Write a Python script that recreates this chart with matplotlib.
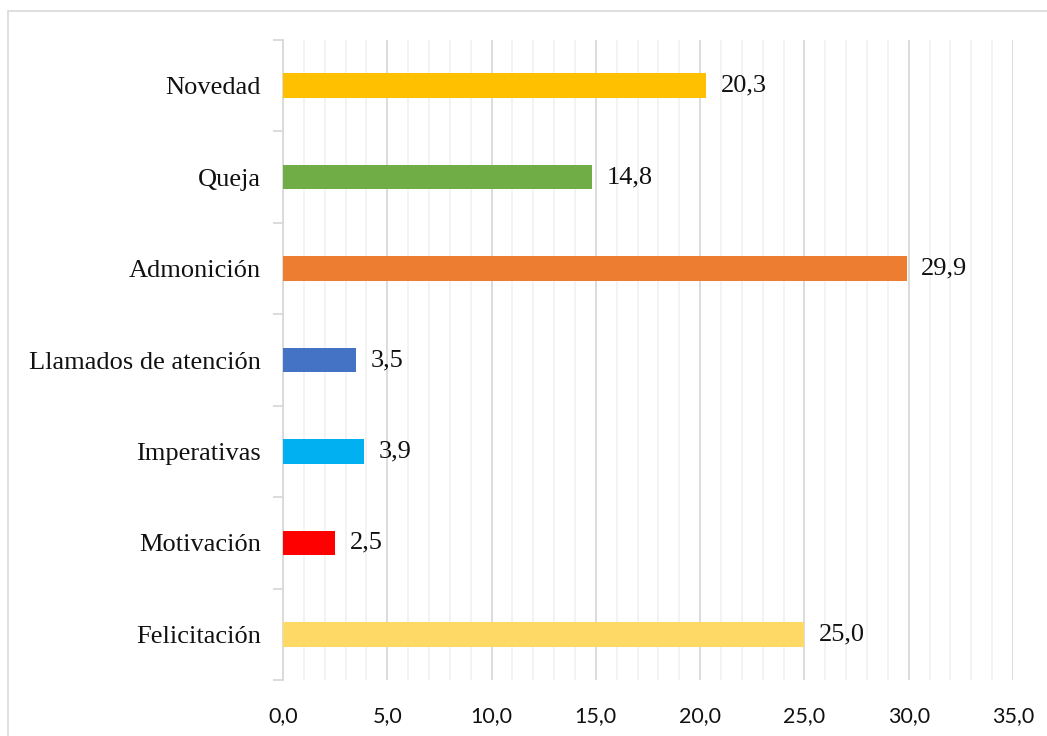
import numpy as np
import matplotlib.pyplot as plt
from matplotlib.patches import Rectangle
from matplotlib.ticker import MultipleLocator, FixedLocator

# Data (bottom to top)
categorias = ["Felicitación", "Motivación", "Imperativas", "Llamados de atención",
              "Admonición", "Queja", "Novedad"]
valores = [25.0, 2.5, 3.9, 3.5, 29.9, 14.8, 20.3]
colores = ["#FFD966", "#FF0000", "#00B0F0", "#4472C4", "#ED7D31", "#70AD47", "#FFC000"]

fig = plt.figure(figsize=(10.47, 7.36), dpi=100)
ax = fig.add_axes([283/1047, 1-680/736, (1013-283)/1047, 640/736])

# outer chart border
fig.patches.append(Rectangle((8/1047, -0.1), 1.2, 1-11/736+0.1, transform=fig.transFigure,
                             fill=False, edgecolor="#D9D9D9", linewidth=1.2))

y = np.arange(len(categorias))
ax.barh(y, valores, height=0.27, color=colores, zorder=3)

for yi, v in zip(y, valores):
    ax.text(v + 0.7, yi, f"{v:.1f}".replace(".", ","), va="center", ha="left",
            fontsize=19, family="Liberation Serif", color="#111111")

ax.set_xlim(0, 35)
ax.set_ylim(-0.5, len(categorias) - 0.5)

ax.xaxis.set_major_locator(MultipleLocator(5))
ax.xaxis.set_minor_locator(MultipleLocator(1))
ax.grid(True, axis="x", which="major", color="#D9D9D9", linewidth=1.3, zorder=0)
ax.grid(True, axis="x", which="minor", color="#F2F2F2", linewidth=1.3, zorder=0)
ax.set_xticks(np.arange(0, 36, 5))
ax.set_xticklabels([f"{t:.1f}".replace(".", ",") for t in np.arange(0, 36, 5)],
                   fontsize=15.5, family="Lato", color="#111111")
ax.tick_params(axis="x", which="both", length=0, pad=19)

ax.set_yticks(y)
ax.set_yticklabels(categorias, fontsize=19, family="Liberation Serif", color="#111111")
ax.yaxis.set_minor_locator(FixedLocator(np.arange(-0.5, len(categorias), 1)))
ax.tick_params(axis="y", which="major", length=0, pad=16)
ax.tick_params(axis="y", which="minor", length=7, color="#D9D9D9", width=1.3)

for s in ["top", "right", "bottom"]:
    ax.spines[s].set_visible(False)
ax.spines["left"].set_color("#D9D9D9")
ax.spines["left"].set_linewidth(1.3)

plt.savefig("out.png", dpi=100)
